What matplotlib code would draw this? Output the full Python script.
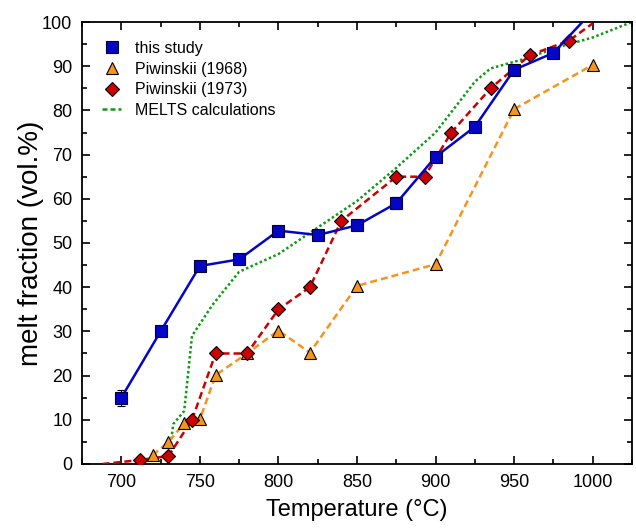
import matplotlib
matplotlib.use("Agg")
import matplotlib.pyplot as plt
from matplotlib.lines import Line2D
from matplotlib.ticker import MultipleLocator

plt.rcParams['font.family'] = ['Liberation Sans', 'DejaVu Sans']

# this study
T_study = [700, 725, 750, 775, 800, 825, 850, 875, 900, 925, 950, 975, 1000]
F_study = [15, 30, 44.8, 46.3, 52.8, 51.8, 54, 59, 69.5, 76.3, 89.2, 93, 102.5]
E_study = [1.8, 0.8, 0.8, 0.8, 0.8, 0.8, 0.8, 1.4, 0.8, 0.8, 0.8, 0.8, 0.8]

# Piwinskii (1968)
T_p68 = [720, 730, 740, 750, 760, 780, 800, 820, 850, 900, 950, 1000]
F_p68 = [2, 5, 9.2, 10.1, 20.1, 25, 30.2, 25.2, 40.3, 45.2, 80.3, 90.3]

# Piwinskii (1973)
T_p73 = [712, 730, 745, 760, 780, 800, 820, 840, 875, 893, 910, 935, 960, 985]
F_p73 = [0.9, 1.8, 10, 25, 25, 35, 40, 55, 65, 65, 75, 85, 92.5, 95.8]
# line ends beyond the markers
T_p73_line = [688] + T_p73 + [1000]
F_p73_line = [0] + F_p73 + [99.7]

# MELTS calculations
T_melts = [730, 733, 740, 745, 758, 775, 800, 825, 850, 875, 900, 925, 935, 955, 980, 1000, 1025]
F_melts = [0, 9, 12, 29, 36, 43.5, 47.5, 53.5, 59.5, 67, 75, 86.5, 89.5, 91.5, 94.5, 96.5, 100]

blue = '#0505c8'
orange = '#f7941d'
red = '#cc0000'
green = '#129a12'

fig = plt.figure(figsize=(6.36, 5.29), dpi=100)
ax = fig.add_axes([0.129, 0.1229, 0.8647, 0.8355])

ax.plot(T_melts, F_melts, color=green, lw=1.8, dashes=(1, 1), zorder=2)
ax.plot(T_p68, F_p68, color=orange, lw=1.8, dashes=(2.8, 1.6), zorder=3)
ax.plot(T_p73_line, F_p73_line, color=red, lw=1.8, dashes=(2.8, 1.6), zorder=4)
ax.plot(T_p68, F_p68, ls='none', marker='^', ms=9, mfc=orange, mec='black', mew=0.8, zorder=5)
ax.plot(T_p73, F_p73, ls='none', marker='D', ms=6.8, mfc=red, mec='black', mew=0.8, zorder=6)
ax.errorbar(T_study, F_study, yerr=E_study, color=blue, lw=1.8, ecolor='black', elinewidth=0.8,
            capsize=3, capthick=0.8, marker='s', ms=8.3, mfc=blue, mec='#000033', mew=0.8, zorder=7)

ax.set_xlim(675, 1025)
ax.set_ylim(0, 100)
ax.xaxis.set_major_locator(MultipleLocator(50))
ax.xaxis.set_minor_locator(MultipleLocator(25))
ax.yaxis.set_major_locator(MultipleLocator(10))
ax.yaxis.set_minor_locator(MultipleLocator(5))
ax.tick_params(which='both', direction='in', top=True, right=True, labelsize=13, width=1.2)
ax.tick_params(which='major', length=6, pad=7)
ax.tick_params(which='minor', length=3.5)
for s in ax.spines.values():
    s.set_linewidth(1.3)

ax.set_xlabel('Temperature (°C)', fontsize=17, labelpad=6)
ax.set_ylabel('melt fraction (vol.%)', fontsize=20)
ax.yaxis.set_label_coords(-0.07, 0.5)

handles = [
    Line2D([], [], ls='none', marker='s', ms=8.3, mfc=blue, mec='#000033', mew=0.8),
    Line2D([], [], ls='none', marker='^', ms=9, mfc=orange, mec='black', mew=0.8),
    Line2D([], [], ls='none', marker='D', ms=6.8, mfc=red, mec='black', mew=0.8),
    Line2D([], [], color=green, lw=1.8, dashes=(2, 1.2)),
]
labels = ['this study', 'Piwinskii (1968)', 'Piwinskii (1973)', 'MELTS calculations']
ax.legend(handles, labels, loc='upper left', frameon=False, fontsize=11.5,
          handlelength=1.2, handletextpad=0.85, labelspacing=0.36,
          bbox_to_anchor=(0.01, 0.99))

fig.savefig('out.png', dpi=100)
